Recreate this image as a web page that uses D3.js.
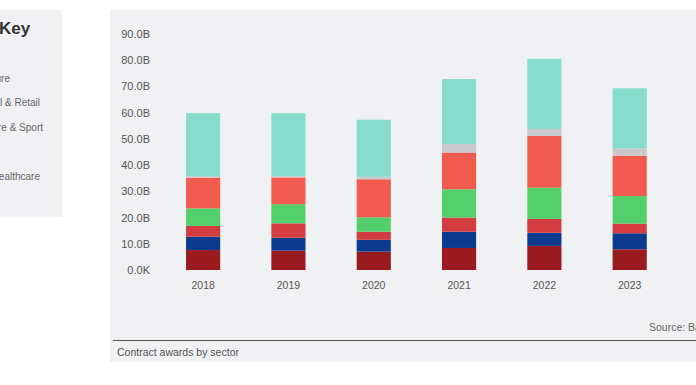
<!DOCTYPE html>
<html lang="en">
<head>
    <meta charset="UTF-8">
    <title>Contract awards by sector</title>
    <style>
        body { margin: 0; background: #fff; }
        svg { display: block; font-family: "Liberation Sans", Arial, sans-serif; }
        .axis text { fill: #555; }
        .axis path, .axis line { display: none; }
    </style>
</head>
<body>
    <svg id="chart" width="696" height="385"></svg>
    <script src="https://d3js.org/d3.v7.min.js"></script>
    <script>
        var years = ["2018", "2019", "2020", "2021", "2022", "2023"];
        // stack order, bottom first (also key order, top first)
        var sectors = ["Defence", "Infrastructure", "Commercial & Retail", "Leisure & Sport", "Energy", "Education & Healthcare", "Housing"];
        var colors = ["#991b1e", "#0b3a8e", "#d33c40", "#53d06c", "#f15a4e", "#c9c9cb", "#86dccd"];
        // values in billions
        var defence = [7.6, 7.4, 7.0, 8.4, 9.2, 7.9];
        var infrastructure = [5.1, 4.9, 4.5, 6.2, 5.0, 6.1];
        var commercial = [4.1, 5.5, 3.1, 5.4, 5.3, 3.7];
        var leisure = [6.7, 7.3, 5.5, 10.8, 11.9, 10.5];
        var energy = [11.7, 10.2, 14.5, 14.0, 19.7, 15.4];
        var healthcare = [0.6, 0.5, 1.0, 3.2, 2.7, 2.8];
        var housing = [24.0, 24.0, 21.7, 24.8, 26.7, 22.9];
        var yTicks = [0, 10, 20, 30, 40, 50, 60, 70, 80, 90];

        var seriesValues = [defence, infrastructure, commercial, leisure, energy, healthcare, housing];
        var table = years.map(function(y, i) {
            var row = { year: y };
            sectors.forEach(function(s, j) { row[s] = seriesValues[j][i]; });
            return row;
        });

        var svg = d3.select("#chart");

        // key panel (cropped at the left edge)
        svg.append("rect").attr("x", 0).attr("y", 10).attr("width", 62).attr("height", 207).attr("fill", "#f0f1f3");
        svg.append("text").attr("x", -1).attr("y", 34).attr("font-size", 17).attr("font-weight", "bold")
            .attr("fill", "#333").text("Key");
        var keyEnds = [-3, 10, 40, 43, -3, 40, -3];
        svg.append("g").selectAll("text")
            .data(sectors)
            .enter().append("text")
            .attr("x", (d, i) => keyEnds[i])
            .attr("y", (d, i) => 57 + i * 24.5)
            .attr("text-anchor", "end")
            .attr("font-size", 10)
            .attr("fill", "#666")
            .text(d => d);

        // chart panel
        svg.append("rect").attr("x", 110).attr("y", 10).attr("width", 586).attr("height", 352).attr("fill", "#f0f1f3");

        var x = d3.scaleBand().domain(years).range([143.4, 689.4]).paddingInner(0.6).paddingOuter(0.5);
        var y = d3.scaleLinear().domain([0, 90]).range([270, 34]);

        var stack = d3.stack().keys(sectors)(table);

        svg.append("g").selectAll("g")
            .data(stack)
            .enter().append("g")
            .attr("fill", (d, i) => colors[i])
            .selectAll("rect")
            .data(d => d)
            .enter().append("rect")
            .attr("x", d => x(d.data.year))
            .attr("width", x.bandwidth())
            .attr("y", d => y(d[1]))
            .attr("height", d => y(d[0]) - y(d[1]));

        svg.append("g").attr("class", "axis")
            .attr("transform", "translate(150,0)")
            .call(d3.axisLeft(y).tickValues(yTicks).tickSize(0).tickPadding(0)
                .tickFormat(d => d === 0 ? "0.0K" : d3.format(".1f")(d) + "B"))
            .selectAll("text").attr("font-size", 11).attr("font-family", null);

        svg.append("g").attr("class", "axis")
            .attr("transform", "translate(0,270)")
            .call(d3.axisBottom(x).tickSize(0).tickPadding(12))
            .selectAll("text").attr("font-size", 10.5).attr("font-family", null);

        svg.append("text").attr("x", 649).attr("y", 331).attr("font-size", 10.5)
            .attr("fill", "#666").text("Source: Barbour ABI");
        svg.append("line").attr("x1", 113).attr("x2", 696).attr("y1", 340.5).attr("y2", 340.5)
            .attr("stroke", "#555").attr("stroke-width", 1);
        svg.append("text").attr("x", 117).attr("y", 356).attr("font-size", 10.5)
            .attr("fill", "#555").text("Contract awards by sector");
    </script>
</body>
</html>
